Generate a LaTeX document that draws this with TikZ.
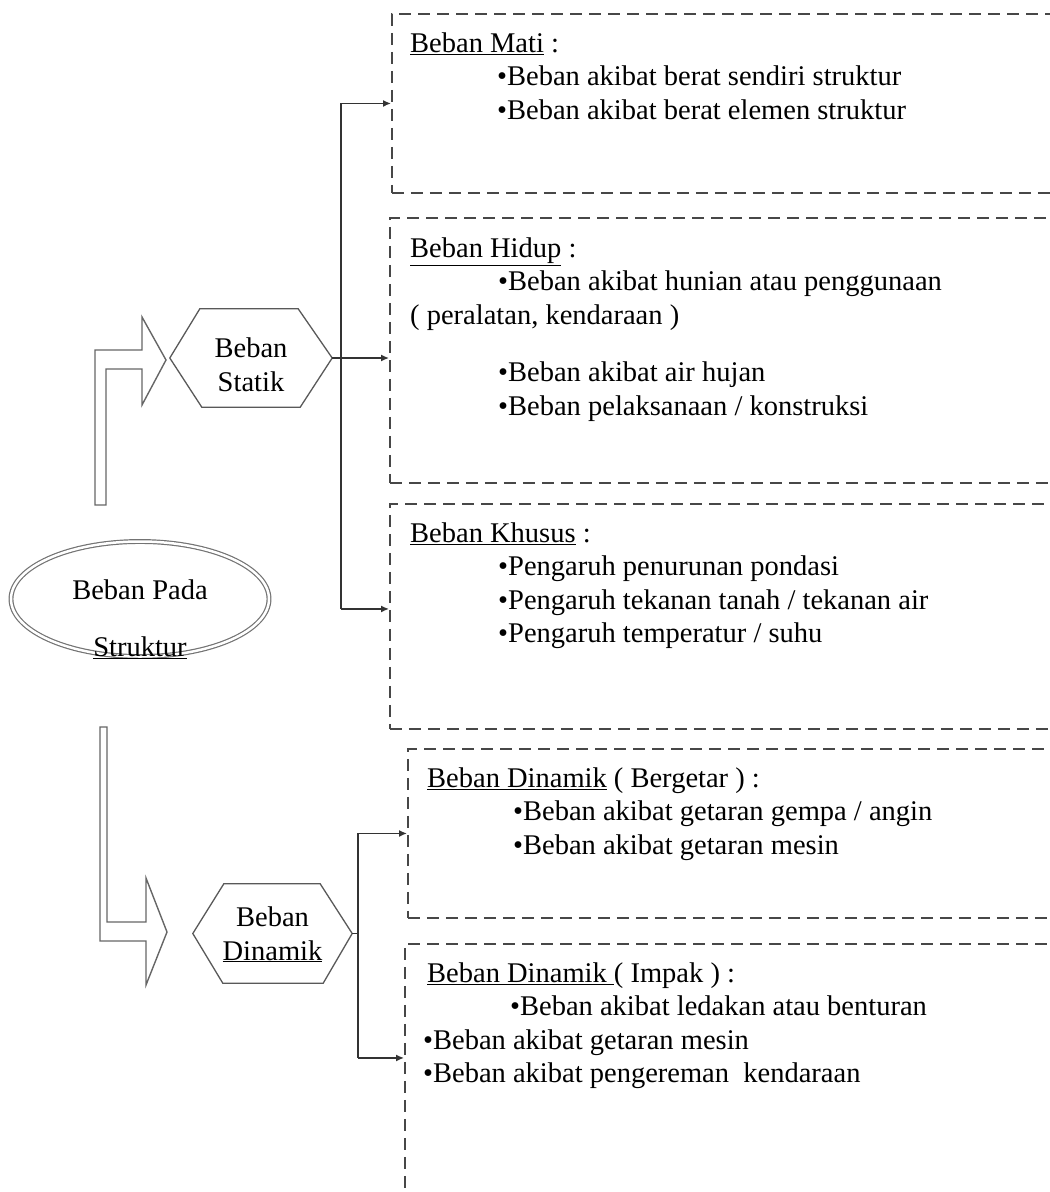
\documentclass[tikz,border=0pt]{standalone}
\usepackage{fontspec}
\setmainfont{Liberation Serif}
\usetikzlibrary{arrows.meta,shapes.geometric,calc}

\begin{document}
\begin{tikzpicture}[x=1pt, y=-1pt, font=\fontsize{28.5}{33.5}\selectfont]
        % Styles
        \tikzset{
            kotak/.style={draw=black!72, line width=1.9pt,
                dash pattern=on 12pt off 7pt, anchor=north west,
                inner sep=0pt},
            isi/.style={anchor=north west, align=left, inner sep=0pt},
            garis/.style={draw=black!80, line width=1.4pt},
            panah/.style={garis, -{Latex[length=8pt,width=7pt]}},
            heksa/.style={draw=black!65, line width=1.3pt},
            tebal/.style={draw=black!60, line width=1.4pt, line join=miter},
        }

        \useasboundingbox (0, 0) rectangle (1050, 1192);
        \clip (0, 0) rectangle (1050, 1192);

        % Kotak beban (dashed boxes, cut at the right edge)
        \node[kotak, minimum width=680pt, minimum height=179pt] (mati) at (391, 13) {};
        \node[kotak, minimum width=680pt, minimum height=265pt] (hidup) at (389, 217) {};
        \node[kotak, minimum width=680pt, minimum height=225pt] (khusus) at (389, 503) {};
        \node[kotak, minimum width=680pt, minimum height=169pt] (bergetar) at (407, 748) {};
        \node[kotak, minimum width=680pt, minimum height=270pt] (impak) at (404, 943) {};

        % Isi kotak
        \node[isi] (matiTxt) at (410, 32.5) {\underline{Beban Mati} :\\
            \hspace*{87pt}•Beban akibat berat sendiri struktur\\
            \hspace*{87pt}•Beban akibat berat elemen struktur};
        \node[isi] (hidupTxt) at (410, 237.5) {\underline{Beban Hidup} :\\
            \hspace*{88pt}•Beban akibat hunian atau penggunaan\\
            ( peralatan, kendaraan )\\[24pt]
            \hspace*{88pt}•Beban akibat air hujan\\
            \hspace*{88pt}•Beban pelaksanaan / konstruksi};
        \node[isi] (khususTxt) at (410, 522.5) {\underline{Beban Khusus} :\\
            \hspace*{88pt}•Pengaruh penurunan pondasi\\
            \hspace*{88pt}•Pengaruh tekanan tanah / tekanan air\\
            \hspace*{88pt}•Pengaruh temperatur / suhu};
        \node[isi] (bergetarTxt) at (427, 767.5) {\underline{Beban Dinamik} ( Bergetar ) :\\
            \hspace*{86pt}•Beban akibat getaran gempa / angin\\
            \hspace*{86pt}•Beban akibat getaran mesin};
        \node[isi] (impakTxt) at (427, 962.5) {\underline{Beban Dinamik }( Impak ) :\\
            \hspace*{83pt}•Beban akibat ledakan atau benturan\\
            \hspace*{-4pt}•Beban akibat getaran mesin\\
            \hspace*{-4pt}•Beban akibat pengereman\ \ kendaraan};

        % Ellipse Beban Pada Struktur
        \node[ellipse, draw=black!55, line width=1.2pt, double, double distance=2.5pt,
            minimum width=258pt, minimum height=115pt] (struktur) at (140, 599) {};
        \node (strukturA) at (140, 590) {Beban Pada};
        \node (strukturB) at (140, 648) {\underline{Struktur}};

        % Hexagons
        \node[minimum width=162pt, minimum height=98pt, inner sep=0pt] (statik) at (251, 358) {};
        \draw[heksa] (statik.west) -- ([xshift=30pt]statik.north west)
            -- ([xshift=-34pt]statik.north east) -- (statik.east)
            -- ([xshift=-32pt]statik.south east)
            -- ([xshift=32pt]statik.south west) -- cycle;
        \node[align=center, inner sep=0pt] (statikTxt) at (251, 364.5) {Beban\\Statik};

        \node[minimum width=159pt, minimum height=99pt, inner sep=0pt] (dinamik) at (272.5, 933.5) {};
        \draw[heksa] (dinamik.west) -- ([xshift=31pt]dinamik.north west)
            -- ([xshift=-32pt]dinamik.north east) -- (dinamik.east)
            -- ([xshift=-29pt]dinamik.south east)
            -- ([xshift=30pt]dinamik.south west) -- cycle;
        \node[align=center, inner sep=0pt] (dinamikTxt) at (272.5, 934.5) {Beban\\\underline{Dinamik}};

        % Hollow arrows
        \draw[tebal] (95, 505) -- (95, 350) -- (142, 350) -- (142, 317)
            -- (166, 360) -- (142, 405) -- (142, 369) -- (106, 369)
            -- (106, 505) -- cycle;
        \draw[tebal] (100, 727) -- (100, 941) -- (146, 941) -- (146, 985)
            -- (167, 932) -- (146, 878) -- (146, 922) -- (107, 922)
            -- (107, 727) -- cycle;

        % Cabang statik
        \coordinate (cabang1) at (341, 358);
        \coordinate (kArr) at ([yshift=7.5pt]khusus.west);
        \draw[garis] (statik.east) -- (cabang1);
        \draw[garis] (mati.west -| cabang1) -- (kArr -| cabang1);
        \draw[panah] (mati.west -| cabang1) -- (mati.west);
        \draw[panah] (cabang1) -- (cabang1 -| hidup.west);
        \draw[panah] (kArr -| cabang1) -- (kArr);

        % Cabang dinamik
        \coordinate (cabang2) at (358, 933.5);
        \coordinate (iArr) at ([yshift=21pt]impak.west);
        \draw[garis] (dinamik.east) -- (cabang2);
        \draw[garis] (bergetar.west -| cabang2) -- (iArr -| cabang2);
        \draw[panah] (bergetar.west -| cabang2) -- (bergetar.west);
        \draw[panah] (iArr -| cabang2) -- (iArr);

\end{tikzpicture}
\end{document}
